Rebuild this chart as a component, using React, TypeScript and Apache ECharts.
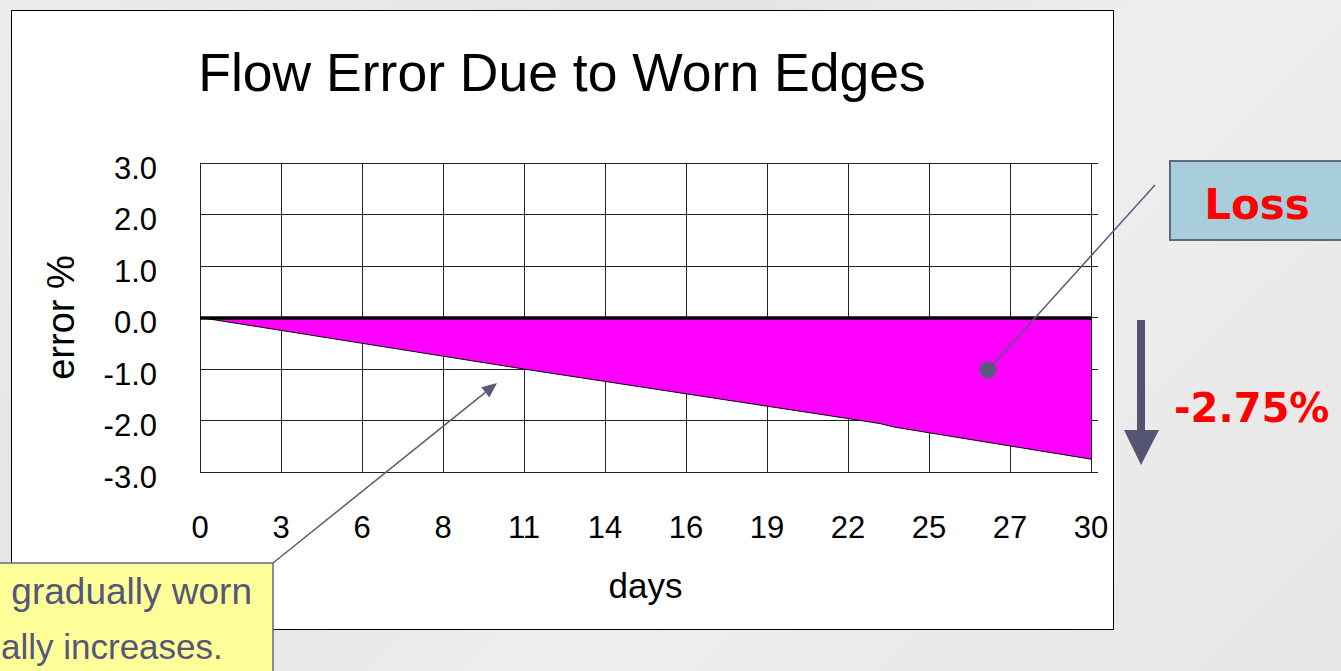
import React, { useEffect, useRef } from "react";
import * as echarts from "echarts";

const titleText = "Flow Error Due to Worn Edges";
const xTickLabels = ["0", "3", "6", "8", "11", "14", "16", "19", "22", "25", "27", "30"];
const days = [0, 10.9, 21.8, 22.9, 23.4, 30];
const errorPct = [0, -1.0, -1.96, -2.06, -2.13, -2.75];
const yMin = -3;
const yMax = 3;
const xMax = 30;
const lossLabel = "Loss";
const lossValue = "-2.75%";
const noteLine1 = "gradually worn";
const noteLine2 = "ally increases.";

const FONT = "'Liberation Sans', Arial, sans-serif";
const BOLD_FONT = "'DejaVu Sans', Verdana, sans-serif";

export default function App() {
  const ref = useRef<HTMLDivElement>(null);

  useEffect(() => {
    document.body.style.margin = "0";
    if (!ref.current) return;
    const chart = echarts.init(ref.current, undefined, { renderer: "svg" });
    const step = xMax / (xTickLabels.length - 1);
    const data = days.map((d, i) => [d, errorPct[i]]);

    // arrow from note box to the fill
    const ax0 = 273, ay0 = 563, ax1 = 497, ay1 = 383;
    const len = Math.hypot(ax1 - ax0, ay1 - ay0);
    const ux = (ax1 - ax0) / len, uy = (ay1 - ay0) / len;
    const hb = 15, hw = 6.5;
    const bx = ax1 - ux * hb, by = ay1 - uy * hb;

    chart.setOption({
      animation: false,
      backgroundColor: "transparent",
      title: {
        text: titleText,
        left: 557,
        textAlign: "center",
        top: 40,
        textStyle: { fontFamily: FONT, fontSize: 53.5, fontWeight: "normal", color: "#000" },
      },
      grid: { left: 200, top: 163, width: 891, height: 309, containLabel: false },
      xAxis: {
        type: "value",
        min: 0,
        max: xMax,
        interval: step,
        name: "days",
        nameLocation: "middle",
        nameGap: 96,
        nameTextStyle: { fontFamily: FONT, fontSize: 35, color: "#000" },
        axisLine: { show: false },
        axisTick: { show: false },
        axisLabel: {
          margin: 40,
          fontFamily: FONT,
          fontSize: 31,
          color: "#000",
          formatter: (v: number) => xTickLabels[Math.round(v / step)] ?? "",
        },
        splitLine: { show: true, lineStyle: { color: "#222", width: 1 } },
      },
      yAxis: [
        {
          type: "value",
          min: yMin,
          max: yMax,
          interval: 1,
          name: "error %",
          nameLocation: "middle",
          nameGap: 120,
          nameRotate: 90,
          nameTextStyle: { fontFamily: FONT, fontSize: 38, color: "#000" },
          axisLine: { show: true, lineStyle: { color: "#222", width: 1 } },
          axisTick: { show: false },
          axisLabel: {
            margin: 43,
            fontFamily: FONT,
            fontSize: 31,
            color: "#000",
            verticalAlign: "top",
            lineHeight: 10,
            formatter: (v: number) => v.toFixed(1),
          },
          splitLine: { show: true, lineStyle: { color: "#222", width: 1 } },
        },
        {
          type: "value",
          min: yMin,
          max: yMax,
          interval: 1,
          position: "right",
          axisLine: { show: false },
          axisTick: { show: true, inside: false, length: 7, lineStyle: { color: "#222" } },
          axisLabel: { show: false },
          splitLine: { show: false },
        },
      ],
      series: [
        {
          type: "line",
          data,
          symbol: "none",
          lineStyle: { color: "#000", width: 1 },
          areaStyle: { color: "#ff00ff", opacity: 1, origin: 0 },
          z: 3,
          markLine: {
            silent: true,
            symbol: "none",
            label: { show: false },
            lineStyle: { color: "#000", width: 3.5, type: "solid" },
            data: [{ yAxis: 0 }],
          },
        },
      ],
      graphic: [
        // note box (yellow)
        {
          type: "rect",
          shape: { x: -3, y: 563, width: 276, height: 120 },
          style: { fill: "#ffff99", stroke: "#6a6a82", lineWidth: 1.5 },
          z: 100,
        },
        {
          type: "text",
          x: 252,
          y: 591,
          style: {
            text: noteLine1,
            fill: "#56567a",
            font: `37px ${FONT}`,
            align: "right",
            verticalAlign: "middle",
          },
          z: 101,
        },
        {
          type: "text",
          x: 1,
          y: 646,
          style: {
            text: noteLine2,
            fill: "#56567a",
            font: `35px ${FONT}`,
            align: "left",
            verticalAlign: "middle",
          },
          z: 101,
        },
        {
          type: "line",
          shape: { x1: ax0, y1: ay0, x2: bx, y2: by },
          style: { stroke: "#5a5a7c", lineWidth: 1.5 },
          z: 100,
        },
        {
          type: "polygon",
          shape: {
            points: [
              [ax1, ay1],
              [bx - uy * hw, by + ux * hw],
              [bx + uy * hw, by - ux * hw],
            ],
          },
          style: { fill: "#5a5a7c" },
          z: 100,
        },
        // Loss box
        {
          type: "rect",
          shape: { x: 1170, y: 161, width: 200, height: 79 },
          style: { fill: "#a8cddb", stroke: "#5e6a80", lineWidth: 2 },
          z: 100,
        },
        {
          type: "text",
          x: 1257,
          y: 204,
          style: {
            text: lossLabel,
            fill: "#ff0000",
            font: `bold 42px ${BOLD_FONT}`,
            align: "center",
            verticalAlign: "middle",
          },
          z: 101,
        },
        {
          type: "line",
          shape: { x1: 1155, y1: 185, x2: 988, y2: 370 },
          style: { stroke: "#5a5a7c", lineWidth: 1.5 },
          z: 100,
        },
        {
          type: "circle",
          shape: { cx: 988, cy: 370, r: 8.5 },
          style: { fill: "#5a5a7c" },
          z: 100,
        },
        // down arrow
        {
          type: "rect",
          shape: { x: 1137, y: 320, width: 8, height: 112 },
          style: { fill: "#555573" },
          z: 100,
        },
        {
          type: "polygon",
          shape: { points: [[1124, 430], [1159, 430], [1141, 465]] },
          style: { fill: "#555573" },
          z: 100,
        },
        {
          type: "text",
          x: 1174,
          y: 408,
          style: {
            text: lossValue,
            fill: "#ff0000",
            font: `bold 40px ${BOLD_FONT}`,
            align: "left",
            verticalAlign: "middle",
          },
          z: 101,
        },
      ],
    });
    return () => chart.dispose();
  }, []);

  return (
    <div
      style={{
        position: "absolute",
        left: 0,
        top: 0,
        width: 1341,
        height: 671,
        overflow: "hidden",
        background: "linear-gradient(135deg, #ececec 0%, #e4e4e4 35%, #eeeeee 60%, #e6e6e6 100%)",
      }}
    >
      <div
        style={{
          position: "absolute",
          left: 11,
          top: 10,
          width: 1101,
          height: 618,
          background: "#fff",
          border: "1px solid #000",
        }}
      />
      <div ref={ref} style={{ position: "absolute", left: 0, top: 0, width: 1341, height: 671 }} />
    </div>
  );
}
